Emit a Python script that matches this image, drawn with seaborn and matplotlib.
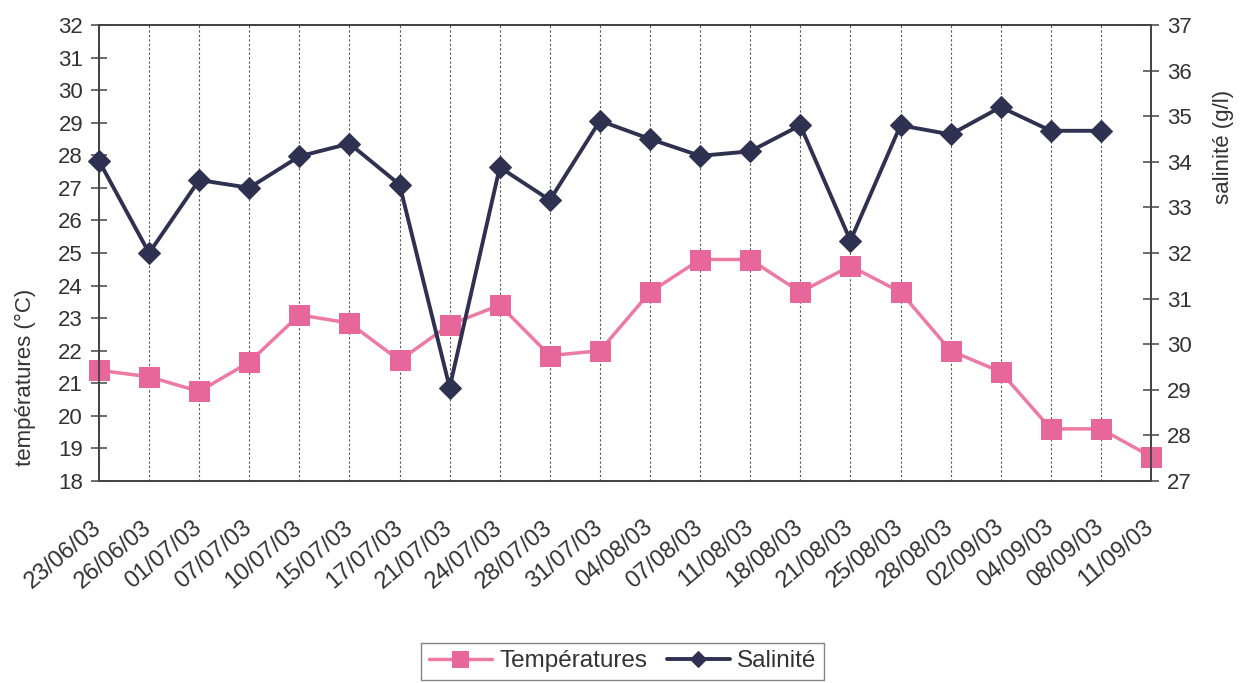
import numpy as np
import pandas as pd
import matplotlib
matplotlib.use("Agg")
import matplotlib.pyplot as plt
import matplotlib.transforms as mtransforms
import seaborn as sns

dates = ["23/06/03", "26/06/03", "01/07/03", "07/07/03", "10/07/03", "15/07/03",
         "17/07/03", "21/07/03", "24/07/03", "28/07/03", "31/07/03", "04/08/03",
         "07/08/03", "11/08/03", "18/08/03", "21/08/03", "25/08/03", "28/08/03",
         "02/09/03", "04/09/03", "08/09/03", "11/09/03"]
temperatures = [21.4, 21.2, 20.75, 21.65, 23.1, 22.85, 21.7, 22.8, 23.4, 21.85, 22.0,
                23.8, 24.8, 24.8, 23.8, 24.6, 23.8, 22.0, 21.35, 19.6, 19.6, 18.75]
salinite = [34.02, 32.0, 33.6, 33.43, 34.12, 34.4, 33.5, 29.05, 33.88, 33.16, 34.9,
            34.5, 34.13, 34.23, 34.8, 32.27, 34.8, 34.6, 35.2, 34.68, 34.68, np.nan]
temp_ticks = list(range(18, 33))
sal_ticks = list(range(27, 38))

PINK = "#E8679A"
PINK_LINE = "#EC7AA4"
NAVY = "#2F3151"
AXC = "#444444"
TXT = "#333333"

sns.set_style("white")
plt.rcParams["font.family"] = ["Liberation Sans", "DejaVu Sans"]
plt.rcParams["text.color"] = TXT

df = pd.DataFrame({"x": np.arange(len(dates)), "temp": temperatures, "sal": salinite})

fig = plt.figure(figsize=(12.45, 6.83), dpi=100)
ax = fig.add_axes([99 / 1245, 1 - 481 / 683, (1151 - 99) / 1245, (481 - 25) / 683])
ax2 = ax.twinx()

sns.lineplot(data=df, x="x", y="temp", ax=ax, color=PINK_LINE, linewidth=2.5,
             marker="s", markersize=15, markerfacecolor=PINK, markeredgecolor=PINK,
             label="Températures", zorder=3, clip_on=False)
sns.lineplot(data=df.dropna(), x="x", y="sal", ax=ax2, color=NAVY, linewidth=2.8,
             marker="D", markersize=11.5, markerfacecolor=NAVY, markeredgecolor=NAVY,
             label="Salinité", zorder=3, clip_on=False)

ax.set_xlim(0, len(dates) - 1)
ax.set_ylim(18, 32)
ax2.set_ylim(27, 37)
ax.set_yticks(temp_ticks)
ax2.set_yticks(sal_ticks)
ax.set_xticks(df["x"])
ax.set_xticklabels(dates, rotation=40, ha="right", va="center",
                   rotation_mode="anchor", fontsize=17, color=TXT)
offset = mtransforms.ScaledTranslation(-10 / 100, 0, fig.dpi_scale_trans)
for lbl in ax.get_xticklabels():
    lbl.set_transform(lbl.get_transform() + offset)
ax.tick_params(axis="x", direction="out", length=6.5, width=1.1, color=AXC, pad=25)
ax.tick_params(axis="y", direction="inout", length=11, width=1.1, color=AXC,
               labelsize=16, labelcolor=TXT, pad=6)
ax2.tick_params(axis="y", direction="inout", length=11, width=1.1, color=AXC,
                labelsize=16, labelcolor=TXT, pad=6)

ax.xaxis.grid(True, color="#555555", linestyle=(0, (2, 2)), linewidth=0.8)
ax.yaxis.grid(False)
ax2.grid(False)
ax.set_axisbelow(True)

for a in (ax, ax2):
    for s in a.spines.values():
        s.set_color(AXC)
        s.set_linewidth(1.3)
        s.set_visible(True)

ax.set_xlabel("")
ax.set_ylabel("températures (°C)", fontsize=16, color=TXT)
ax2.set_ylabel("salinité (g/l)", fontsize=16, color=TXT)
ax.yaxis.set_label_coords((25 - 99) / 1052, (481 - 377) / 456)
ax2.yaxis.set_label_coords((1223 - 99) / 1052, (481 - 147) / 456)
for lab in (ax.yaxis.label, ax2.yaxis.label):
    lab.set_ha("center")
    lab.set_va("center")

h1, l1 = ax.get_legend_handles_labels()
h2, l2 = ax2.get_legend_handles_labels()
for a in (ax, ax2):
    if a.get_legend() is not None:
        a.get_legend().remove()
leg = fig.legend(h1 + h2, l1 + l2, loc="upper center", bbox_to_anchor=(0.5, 1 - 643 / 683),
                 ncol=2, fontsize=17.5, frameon=True, fancybox=False, markerscale=0.75,
                 handlelength=2.6, columnspacing=0.8, handletextpad=0.3,
                 borderpad=0.3, borderaxespad=0, edgecolor="#666666")
leg.get_frame().set_linewidth(1.0)

fig.savefig("out.png", dpi=100, facecolor="white")
